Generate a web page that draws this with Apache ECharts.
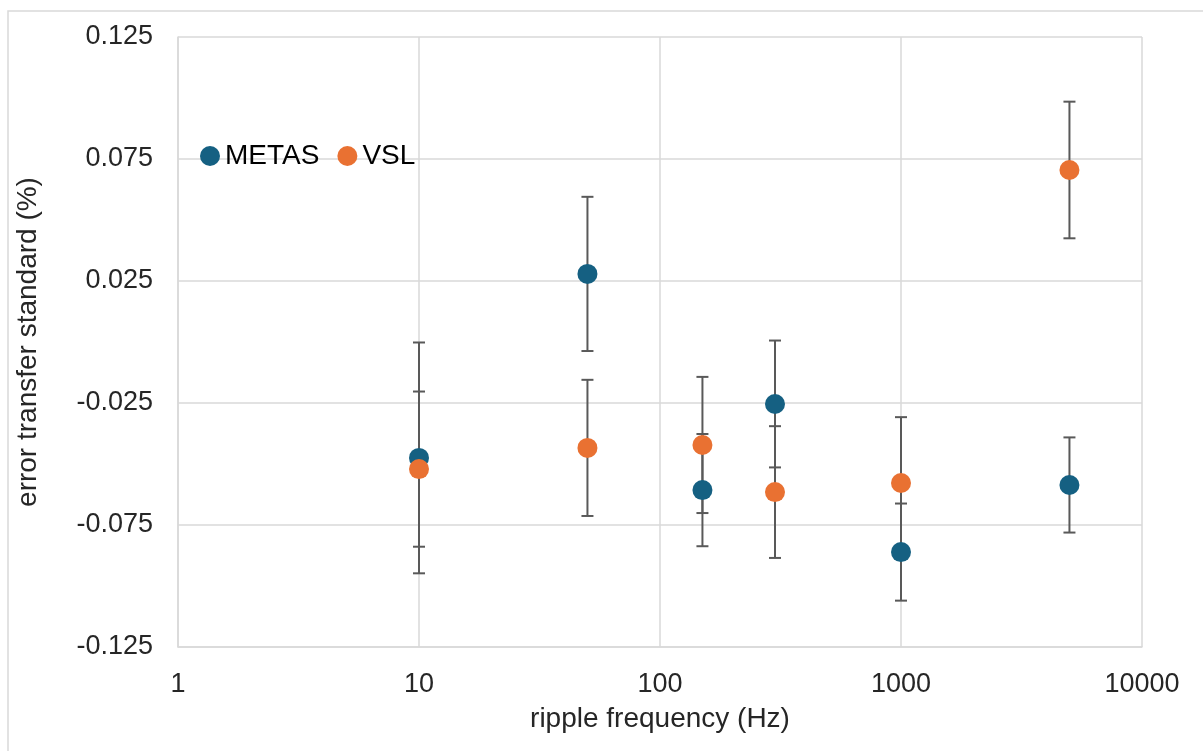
<!DOCTYPE html>
<html>
<head>
<meta charset="utf-8">
<script src="https://cdn.jsdelivr.net/npm/echarts@6/dist/echarts.min.js"></script>
<style>
  html, body { margin: 0; padding: 0; background: #fff; }
  #chart { width: 1203px; height: 751px; }
</style>
</head>
<body>
<div id="chart"></div>
<script>
// ripple frequencies (Hz)
const freqs = [10, 50, 150, 300, 1000, 5000]

// error of transfer standard (%) and expanded uncertainty
const metasValues = [-0.0475, 0.0279, -0.0607, -0.0254, -0.0861, -0.0586]
const metasUnc = [0.0473, 0.0316, 0.0230, 0.0260, 0.0199, 0.0195]
const vslValues = [-0.0521, -0.0434, -0.0422, -0.0615, -0.0578, 0.0705]
const vslUnc = [0.0318, 0.0279, 0.0279, 0.0270, 0.0270, 0.0280]

const yTicks = [-0.125, -0.075, -0.025, 0.025, 0.075, 0.125]
const xMin = 1
const xMax = 10000

const metasColor = '#156082'
const vslColor = '#E97132'
const gridColor = '#d9d9d9'
const labelColor = '#262626'
const font = 'Liberation Sans, Arial, sans-serif'

const chart = echarts.init(document.getElementById('chart'))

const toPoints = (vals) => freqs.map((f, i) => [f, vals[i]])
const toBars = (vals, unc) => freqs.map((f, i) => [f, vals[i] - unc[i], vals[i] + unc[i]])

const renderErrorBar = (params, api) => {
  const low = api.coord([api.value(0), api.value(1)])
  const high = api.coord([api.value(0), api.value(2)])
  const cap = 6
  const style = { stroke: '#595959', lineWidth: 2 }
  return {
    type: 'group',
    children: [
      { type: 'line', shape: { x1: low[0], y1: low[1], x2: high[0], y2: high[1] }, style },
      { type: 'line', shape: { x1: low[0] - cap, y1: low[1], x2: low[0] + cap, y2: low[1] }, style },
      { type: 'line', shape: { x1: high[0] - cap, y1: high[1], x2: high[0] + cap, y2: high[1] }, style }
    ]
  }
}

// horizontal gridlines only at the labelled ticks
const renderGridLine = (params, api) => {
  const a = api.coord([api.value(0), api.value(1)])
  const b = api.coord([api.value(2), api.value(1)])
  return {
    type: 'line',
    shape: { x1: a[0], y1: a[1], x2: b[0], y2: b[1] },
    style: { stroke: gridColor, lineWidth: 1.5 }
  }
}

const option = {
  backgroundColor: '#fff',
  animation: false,
  textStyle: { fontFamily: font },
  graphic: [
    {
      type: 'rect',
      shape: { x: 8, y: 11, width: 1300, height: 800 },
      style: { fill: 'none', stroke: '#d9d9d9', lineWidth: 1.5 },
      silent: true,
      z: -1
    }
  ],
  legend: {
    data: ['METAS', 'VSL'],
    left: 195,
    top: 137,
    icon: 'circle',
    itemWidth: 20,
    itemHeight: 20,
    itemGap: 18,
    textStyle: { fontSize: 28, color: '#000', fontFamily: font }
  },
  grid: {
    left: 178,
    right: 61,
    top: 37,
    bottom: 104
  },
  xAxis: {
    type: 'log',
    logBase: 10,
    min: xMin,
    max: xMax,
    name: 'ripple frequency (Hz)',
    nameLocation: 'middle',
    nameGap: 58,
    nameTextStyle: { fontSize: 28, color: labelColor, fontFamily: font },
    axisLine: { show: true, onZero: false, lineStyle: { color: gridColor, width: 1.5 } },
    axisTick: { show: false },
    axisLabel: {
      fontSize: 27,
      color: labelColor,
      margin: 24,
      fontFamily: font,
      formatter: (v) => String(Math.round(v))
    },
    splitLine: { show: true, lineStyle: { color: gridColor, width: 1.5 } }
  },
  yAxis: {
    type: 'value',
    min: -0.125,
    max: 0.125,
    interval: 0.025,
    name: 'error transfer standard (%)',
    nameLocation: 'middle',
    nameGap: 136,
    nameTextStyle: { fontSize: 28, color: labelColor, fontFamily: font },
    axisLine: { show: true, onZero: false, lineStyle: { color: gridColor, width: 1.5 } },
    axisTick: { show: false },
    axisLabel: {
      fontSize: 27,
      color: labelColor,
      margin: 25,
      fontFamily: font,
      formatter: (v) => {
        const hit = yTicks.find(t => Math.abs(t - v) < 1e-9)
        return hit === undefined ? '' : hit.toFixed(3)
      }
    },
    splitLine: { show: false }
  },
  series: [
    {
      name: 'grid',
      type: 'custom',
      renderItem: renderGridLine,
      data: yTicks.map(t => [xMin, t, xMax]),
      encode: { x: [0, 2], y: 1 },
      silent: true,
      z: 1
    },
    {
      name: 'METAS err',
      type: 'custom',
      renderItem: renderErrorBar,
      data: toBars(metasValues, metasUnc),
      encode: { x: 0, y: [1, 2] },
      z: 2,
      silent: true
    },
    {
      name: 'VSL err',
      type: 'custom',
      renderItem: renderErrorBar,
      data: toBars(vslValues, vslUnc),
      encode: { x: 0, y: [1, 2] },
      z: 2,
      silent: true
    },
    {
      name: 'METAS',
      type: 'scatter',
      data: toPoints(metasValues),
      symbolSize: 20,
      itemStyle: { color: metasColor, opacity: 1 },
      z: 3
    },
    {
      name: 'VSL',
      type: 'scatter',
      data: toPoints(vslValues),
      symbolSize: 20,
      itemStyle: { color: vslColor, opacity: 1 },
      z: 4
    }
  ]
}

chart.setOption(option)
</script>
</body>
</html>
